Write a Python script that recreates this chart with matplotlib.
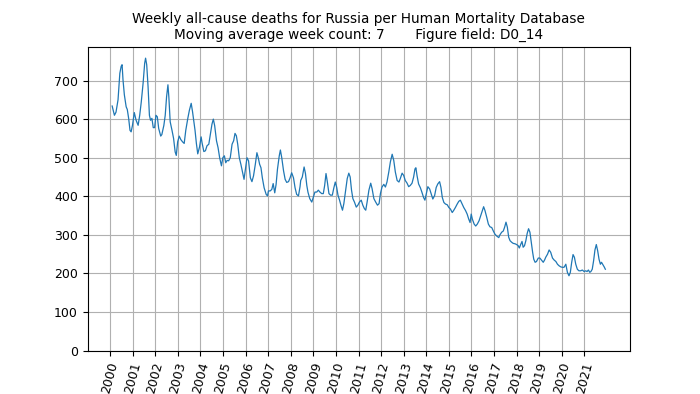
import matplotlib
matplotlib.use('Agg')
import matplotlib.pyplot as plt

# weekly deaths (thousands-ish scale as plotted), moving average of 7 weeks
years = [
    2000.09, 2000.19, 2000.26, 2000.35, 2000.43, 2000.49, 2000.53, 2000.57, 2000.63, 2000.71,
    2000.76, 2000.82, 2000.88, 2000.93, 2000.99, 2001.07, 2001.15, 2001.24, 2001.31, 2001.38,
    2001.46, 2001.53, 2001.57, 2001.62, 2001.68, 2001.74, 2001.79, 2001.85, 2001.91, 2001.97,
    2002.03, 2002.09, 2002.15, 2002.24, 2002.29, 2002.38, 2002.44, 2002.50, 2002.56, 2002.60,
    2002.66, 2002.74, 2002.81, 2002.88, 2002.93, 2002.99, 2003.06, 2003.13, 2003.21, 2003.28,
    2003.35, 2003.44, 2003.51, 2003.59, 2003.65, 2003.71, 2003.76, 2003.82, 2003.88, 2003.96,
    2004.03,
    2004.07, 2004.15, 2004.22, 2004.29, 2004.37, 2004.44, 2004.51, 2004.57, 2004.63, 2004.71,
    2004.78, 2004.85, 2004.93, 2004.99, 2005.06, 2005.12, 2005.18, 2005.25, 2005.32, 2005.40,
    2005.47, 2005.53, 2005.59, 2005.65, 2005.72, 2005.79, 2005.87, 2005.93, 2005.99, 2006.06,
    2006.13, 2006.21, 2006.28, 2006.35, 2006.43, 2006.50, 2006.56, 2006.62, 2006.68, 2006.74,
    2006.82, 2006.91, 2006.97, 2007.01, 2007.09, 2007.16, 2007.22, 2007.29, 2007.35, 2007.41,
    2007.49, 2007.54, 2007.60, 2007.68, 2007.75, 2007.82, 2007.90, 2007.97, 2008.04, 2008.12,
    2008.19, 2008.26, 2008.34, 2008.41,
    2008.44, 2008.51, 2008.59, 2008.65, 2008.71, 2008.76, 2008.84, 2008.93, 2009.00, 2009.07,
    2009.15, 2009.22, 2009.29, 2009.37, 2009.44, 2009.50, 2009.56, 2009.62, 2009.69, 2009.76,
    2009.84, 2009.90, 2009.97, 2010.03, 2010.09, 2010.16, 2010.22, 2010.29, 2010.35, 2010.43,
    2010.50, 2010.57, 2010.63, 2010.69, 2010.75, 2010.82, 2010.90, 2010.97, 2011.04, 2011.12,
    2011.19, 2011.26, 2011.32, 2011.38, 2011.46, 2011.54, 2011.60, 2011.68, 2011.76, 2011.84,
    2011.91, 2011.97, 2012.04, 2012.12, 2012.19, 2012.26, 2012.34, 2012.41, 2012.49, 2012.56,
    2012.63, 2012.71, 2012.79, 2012.85,
    2012.93, 2013.00, 2013.07, 2013.15, 2013.22, 2013.29, 2013.37, 2013.44, 2013.50, 2013.54,
    2013.59, 2013.66, 2013.74, 2013.81, 2013.88, 2013.94, 2014.00, 2014.07, 2014.15, 2014.22,
    2014.29, 2014.37, 2014.44, 2014.51, 2014.59, 2014.65, 2014.71, 2014.78, 2014.85, 2014.93,
    2015.00, 2015.07, 2015.15, 2015.22, 2015.29, 2015.37, 2015.44, 2015.51, 2015.59, 2015.66,
    2015.74, 2015.81, 2015.88, 2015.94, 2015.99, 2016.04, 2016.12, 2016.19, 2016.26, 2016.34,
    2016.41, 2016.49, 2016.54, 2016.60, 2016.68, 2016.75, 2016.82, 2016.90, 2016.97, 2017.04,
    2017.12, 2017.21,
    2017.26, 2017.34, 2017.41, 2017.47, 2017.53, 2017.59, 2017.65, 2017.71, 2017.78, 2017.85,
    2017.93, 2018.00, 2018.07, 2018.12, 2018.18, 2018.24, 2018.29, 2018.35, 2018.41, 2018.47,
    2018.53, 2018.59, 2018.65, 2018.71, 2018.76, 2018.82, 2018.88, 2018.96, 2019.03, 2019.10,
    2019.18, 2019.24, 2019.29, 2019.37, 2019.44, 2019.51, 2019.59, 2019.66, 2019.74, 2019.81,
    2019.88, 2019.96, 2020.03, 2020.10, 2020.18, 2020.25, 2020.32, 2020.38, 2020.44, 2020.50,
    2020.56, 2020.62, 2020.69, 2020.76, 2020.84, 2020.91, 2020.99, 2021.06, 2021.12, 2021.18,
    2021.24, 2021.29, 2021.35, 2021.41, 2021.47, 2021.53, 2021.59, 2021.65, 2021.71, 2021.76,
    2021.82, 2021.88, 2021.93,
]

deaths = [
    634, 610, 618, 650, 719, 737, 741, 702, 663, 632,
    625, 602, 571, 567, 584, 617, 597, 584, 610, 645,
    693, 745, 758, 741, 684, 610, 597, 602, 578, 578,
    610, 606, 576, 556, 560, 584, 610, 658, 689, 658,
    593, 571, 550, 515, 506, 541, 556, 547, 541, 537,
    571, 602, 623, 641, 619, 593, 571, 537, 510, 528,
    554,
    539, 516, 518, 531, 535, 561, 587, 600, 583, 544,
    526, 500, 479, 500, 505, 487, 493, 492, 500, 535,
    544, 563, 557, 535, 500, 483, 461, 444, 470, 500,
    492, 448, 438, 453, 483, 513, 500, 483, 474, 448,
    422, 405, 401, 414, 414, 418, 433, 409, 431, 470,
    505, 520, 500, 466, 444, 436, 438, 448, 461, 448,
    422, 405, 401, 425,
    441, 450, 476, 459, 428, 411, 394, 385, 398, 411,
    411, 416, 411, 407, 407, 428, 459, 437, 407, 403,
    403, 420, 437, 424, 403, 390, 377, 364, 381, 416,
    446, 460, 450, 416, 394, 385, 372, 377, 385, 390,
    377, 368, 364, 385, 416, 434, 420, 394, 385, 377,
    381, 407, 424, 431, 424, 437, 463, 489, 509, 493,
    463, 441, 437, 446,
    460, 454, 441, 434, 425, 428, 434, 450, 471, 474,
    454, 432, 422, 410, 397, 390, 406, 425, 419, 406,
    393, 402, 423, 432, 438, 423, 397, 384, 380, 378,
    371, 367, 358, 364, 371, 380, 387, 390, 380, 371,
    363, 354, 341, 332, 354, 341, 328, 323, 328, 337,
    350, 364, 373, 363, 345, 328, 321, 319, 310, 302,
    297, 293,
    300, 307, 310, 320, 333, 320, 294, 285, 281, 278,
    277, 275, 272, 266, 275, 283, 268, 272, 285, 304,
    316, 307, 281, 255, 237, 229, 231, 240, 240, 235,
    229, 235, 242, 250, 261, 255, 240, 235, 231, 224,
    220, 217, 216, 216, 224, 203, 194, 203, 229, 249,
    242, 224, 211, 207, 207, 209, 205, 207, 205, 209,
    203, 205, 211, 233, 261, 275, 259, 237, 224, 229,
    223, 217, 211,
]

tick_years = list(range(2000, 2022))

country = 'Russia'
ma_weeks = 7
field = 'D0_14'

plt.figure(figsize=(7, 3.94), dpi=100)
plt.plot(years, deaths, color='#1f77b4', linewidth=0.9)
plt.ylim(bottom=0)
plt.xticks(tick_years, [str(y) for y in tick_years], rotation=75, fontsize=9)
plt.yticks(fontsize=9)
plt.grid(True)
plt.title('Weekly all-cause deaths for ' + country + ' per Human Mortality Database\n'
          + 'Moving average week count: ' + str(ma_weeks) + '       Figure field: ' + field,
          fontsize=9.8)
plt.savefig('out.png', dpi=100)
